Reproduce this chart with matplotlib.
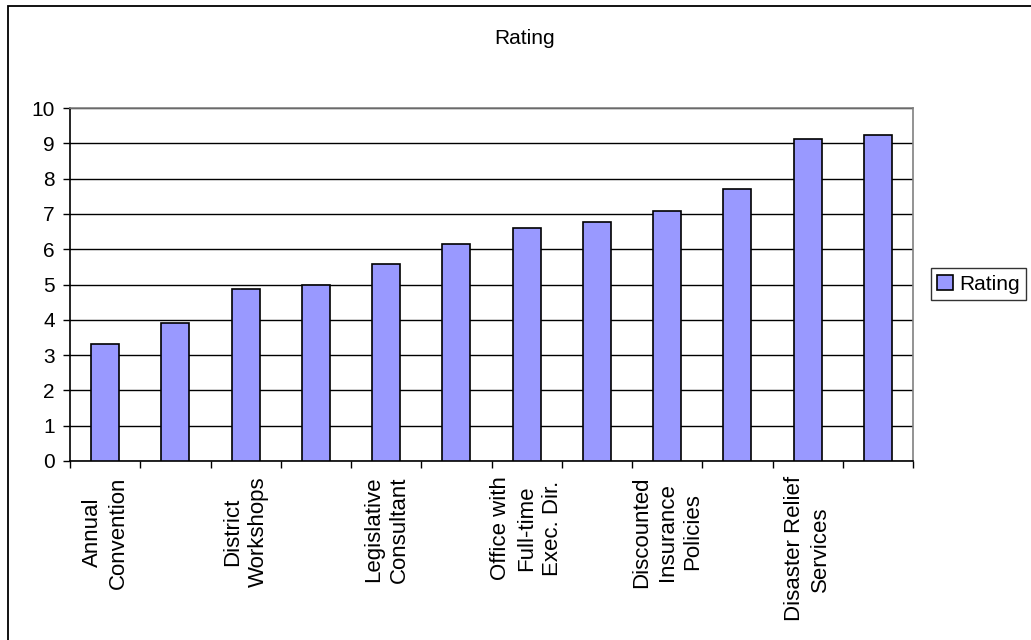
import matplotlib.pyplot as plt
from matplotlib.patches import Rectangle

plt.rcParams['font.family'] = ['Liberation Sans', 'DejaVu Sans']

# 12 categories, only every other one got a label on the original chart
categories = ['Annual\nConvention', '', 'District\nWorkshops', '',
              'Legislative\nConsultant', '', 'Office with\nFull-time\nExec. Dir.', '',
              'Discounted\nInsurance\nPolicies', '', 'Disaster Relief\nServices', '']
ratings = [3.32, 3.90, 4.88, 4.99, 5.57, 6.15, 6.59, 6.78, 7.08, 7.71, 9.12, 9.23]
y_ticks = list(range(0, 11))

W, H = 1031, 640
fig = plt.figure(figsize=(W / 100, H / 100), dpi=100)

# chart area border (runs off the right and bottom edge like the screenshot)
fig.patches.append(Rectangle((8 / W, -0.1), 1.2, 1.1 - 6 / H, transform=fig.transFigure,
                             fill=False, edgecolor='black', linewidth=1.3))

left, right, top, bottom = 70, 913, 108, 461
ax = fig.add_axes([left / W, 1 - bottom / H, (right - left) / W, (bottom - top) / H])

x = list(range(len(ratings)))
ax.bar(x, ratings, width=0.4, color='#9999FF', edgecolor='black', linewidth=1.2,
       label='Rating', zorder=3)

ax.set_xlim(-0.5, len(ratings) - 0.5)
ax.set_ylim(0, 10)
ax.set_yticks(y_ticks)
ax.yaxis.grid(True, color='black', linewidth=1.0, zorder=0)

# labels at centres, tick marks at category boundaries
ax.set_xticks(x)
ax.set_xticklabels(categories, rotation=90, ha='center', va='top',
                   multialignment='center', linespacing=1.3)
ax.set_xticks([i - 0.5 for i in range(len(ratings) + 1)], minor=True)
ax.tick_params(axis='x', which='major', length=0, pad=11, labelsize=16)
ax.tick_params(axis='x', which='minor', length=5, width=1, direction='out')
ax.tick_params(axis='y', length=5, width=1, direction='out', labelsize=15, pad=6)

ax.spines['left'].set_color('black')
ax.spines['bottom'].set_color('black')
ax.spines['top'].set_color('#808080')
ax.spines['right'].set_color('#808080')
for s in ax.spines.values():
    s.set_linewidth(1.2)

fig.text(525 / W, 1 - 39 / H, 'Rating', ha='center', va='center', fontsize=15)

leg = fig.legend(loc='center left', bbox_to_anchor=(931 / W, 1 - 284 / H), fontsize=15,
                 frameon=True, fancybox=False, edgecolor='black', borderpad=0.3,
                 handlelength=0.75, handleheight=0.75, handletextpad=0.3, borderaxespad=0)
leg.get_frame().set_linewidth(1.0)

fig.savefig('out.png', dpi=100)
